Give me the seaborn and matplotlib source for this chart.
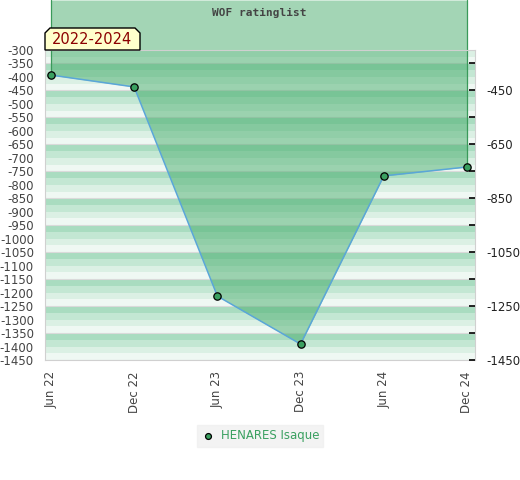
import numpy as np
import pandas as pd
import matplotlib.pyplot as plt
import seaborn as sns
from matplotlib.patches import Polygon

dates = ['Jun 22', 'Dec 22', 'Jun 23', 'Dec 23', 'Jun 24', 'Dec 24']
months = [0, 6, 12, 18, 24, 30]
rating = [-393, -437, -1213, -1391, -767, -734]
player = 'HENARES Isaque'
left_ticks = list(range(-300, -1451, -50))
right_ticks = list(range(-350, -1451, -100))
right_labels = [-450, -650, -850, -1050, -1250, -1450]

df = pd.DataFrame({'month': months, 'rating': rating, 'player': player})

sns.set_style('white')
plt.rcParams['font.family'] = ['DejaVu Sans']

fig = plt.figure(figsize=(5.2, 4.8), dpi=100)
ax = fig.add_axes([45 / 520, 1 - 360 / 480, 430 / 520, 310 / 480])

ymin, ymax = -1450, -300
ax.set_ylim(ymin, ymax)
ax.set_xlim(-0.43, 30.58)

# striped background
band_cols = ['#a9dcc0', '#c3e7d3', '#dbf0e4', '#eff8f3']
for top in range(-250, -1451, -100):
    for i, c in enumerate(band_cols):
        hi = top - 25 * i
        lo = hi - 25
        ax.axhspan(max(lo, ymin), min(hi, ymax), color=c, lw=0, zorder=0)
    ax.axhline(top, color='#dadada', lw=0.8, zorder=0.5)

# area filled upward out of the plot
fig_top = ymax + 50 / 310 * (ymax - ymin)
ax.fill_between(months, rating, fig_top, color='#49ad6d', alpha=0.5,
                lw=0, clip_on=False, zorder=1)
ax.plot([months[0], months[0]], [rating[0], fig_top], color='#3a9a5a',
        lw=0.9, clip_on=False, zorder=1.5)
ax.plot([months[-1], months[-1]], [rating[-1], fig_top], color='#3a9a5a',
        lw=0.9, clip_on=False, zorder=1.5)

sns.lineplot(data=df, x='month', y='rating', color='#5aa6d8', lw=1.1,
             ax=ax, legend=False, zorder=2)
sns.scatterplot(data=df, x='month', y='rating', color='#3aa060',
                edgecolor='black', linewidth=0.9, s=28, ax=ax,
                label=player, zorder=3, clip_on=False)

for s in ax.spines.values():
    s.set_color('#d0d0d0')
    s.set_zorder(4)

ax.set_yticks(left_ticks)
ax.set_yticklabels([str(t) for t in left_ticks])
ax.tick_params(axis='y', length=0, pad=8, labelsize=8.5, labelcolor='#444444')
ax.set_xticks(months)
ax.set_xticklabels(dates, rotation=90)
ax.tick_params(axis='x', length=0, pad=8, labelsize=8.5, labelcolor='#444444')
ax.set_xlabel('')
ax.set_ylabel('')

ax2 = ax.twinx()
ax2.set_ylim(ymin, ymax)
ax2.set_yticks(right_ticks)
ax2.set_yticklabels([str(t) if t in right_labels else '' for t in right_ticks])
ax2.tick_params(axis='y', direction='in', length=4, width=1.2,
                color='black', pad=8, labelsize=8.5, labelcolor='#222222')
for s in ax2.spines.values():
    s.set_visible(False)

leg = ax.legend(loc='center', bbox_to_anchor=(0.5, -0.245), frameon=True,
                fontsize=8.5, handletextpad=0.5, borderpad=0.35,
                borderaxespad=0, handlelength=1.2, markerscale=0.8,
                fancybox=False)
leg.get_frame().set_facecolor('#f0f0f0')
leg.get_frame().set_edgecolor('#f0f0f0')
for t in leg.get_texts():
    t.set_color('#3aa060')

fig.text(259 / 520, 1 - 13 / 480, 'WOF ratinglist', ha='center', va='center',
         family='DejaVu Sans Mono', fontweight='bold', fontsize=8,
         color='#444444')

# period label box with chamfered top corners
bx = np.array([45, 45, 50, 135, 140, 140]) / 520
by = 1 - np.array([50, 33, 28, 28, 33, 50]) / 480
fig.patches.append(Polygon(np.column_stack([bx, by]), closed=True,
                           transform=fig.transFigure, facecolor='#ffffcc',
                           edgecolor='black', lw=1, zorder=10))
fig.text(92 / 520, 1 - 40 / 480, '2022-2024', ha='center', va='center',
         fontsize=10.5, color='#8b0000', zorder=11)

fig.savefig('out.png', dpi=100)
